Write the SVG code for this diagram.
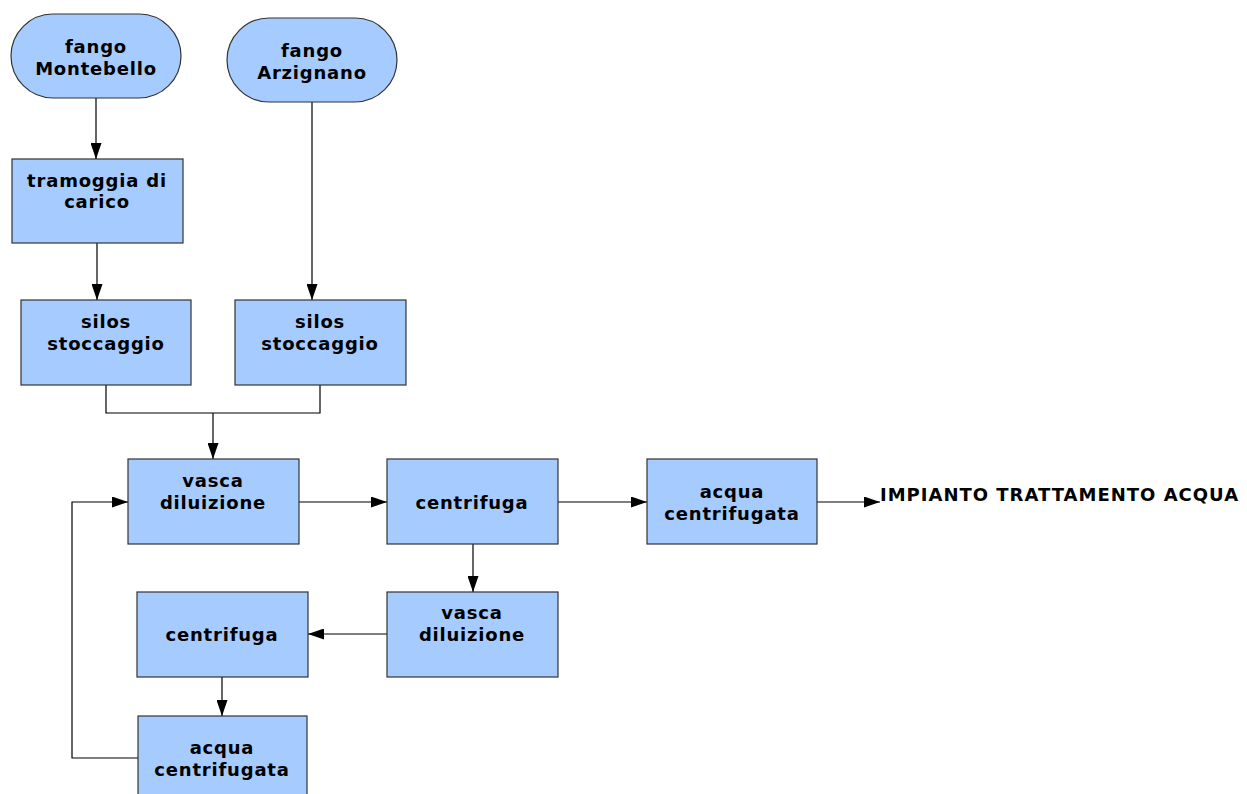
<svg xmlns="http://www.w3.org/2000/svg" width="1247" height="794" viewBox="0 0 1247 794">
  <style>
    .box { fill: #a6cbff; stroke: #333333; stroke-width: 1.2; }
    .lbl { font-family: "DejaVu Sans", Verdana, sans-serif; font-weight: bold; font-size: 18px; letter-spacing: 0.8px; fill: #000000; text-anchor: middle; }
    .out { font-family: "DejaVu Sans", Verdana, sans-serif; font-weight: bold; font-size: 18px; letter-spacing: 1px; fill: #000000; }
    .wire { fill: none; stroke: #000000; stroke-width: 1.2; }
  </style>
  <defs>
    <marker id="arrow" viewBox="0 0 16 11" refX="16" refY="5.5" markerWidth="16" markerHeight="11" markerUnits="userSpaceOnUse" orient="auto">
      <path d="M0,0 L16,5.5 L0,11 Z" fill="#000000"/>
    </marker>
  </defs>
  <rect width="1247" height="794" fill="#ffffff"/>

  <g id="connectors">
    <path class="wire" d="M96,98 V159" marker-end="url(#arrow)"/>
    <path class="wire" d="M312,102 V300" marker-end="url(#arrow)"/>
    <path class="wire" d="M97,243 V300" marker-end="url(#arrow)"/>
    <path class="wire" d="M106,385 V413 H320 V385"/>
    <path class="wire" d="M213,413 V459" marker-end="url(#arrow)"/>
    <path class="wire" d="M299,502 H387" marker-end="url(#arrow)"/>
    <path class="wire" d="M558,502 H647" marker-end="url(#arrow)"/>
    <path class="wire" d="M817,502 H880" marker-end="url(#arrow)"/>
    <path class="wire" d="M473,544 V592" marker-end="url(#arrow)"/>
    <path class="wire" d="M387,634 H308" marker-end="url(#arrow)"/>
    <path class="wire" d="M222,677 V716" marker-end="url(#arrow)"/>
    <path class="wire" d="M138,758 H72 V502 H128" marker-end="url(#arrow)"/>
  </g>

  <g id="fango-montebello">
    <rect class="box" x="11" y="14" width="170" height="84" rx="42" ry="42"/>
    <text class="lbl" x="96" y="53">fango</text>
    <text class="lbl" x="96" y="75">Montebello</text>
  </g>
  <g id="fango-arzignano">
    <rect class="box" x="227" y="18" width="170" height="84" rx="42" ry="42"/>
    <text class="lbl" x="312" y="57">fango</text>
    <text class="lbl" x="312" y="79">Arzignano</text>
  </g>
  <g id="tramoggia">
    <rect class="box" x="12" y="159" width="171" height="84"/>
    <text class="lbl" x="97" y="187">tramoggia di</text>
    <text class="lbl" x="97" y="208">carico</text>
  </g>
  <g id="silos-1">
    <rect class="box" x="21" y="300" width="170" height="85"/>
    <text class="lbl" x="106" y="328">silos</text>
    <text class="lbl" x="106" y="350">stoccaggio</text>
  </g>
  <g id="silos-2">
    <rect class="box" x="235" y="300" width="171" height="85"/>
    <text class="lbl" x="320" y="328">silos</text>
    <text class="lbl" x="320" y="350">stoccaggio</text>
  </g>
  <g id="vasca-1">
    <rect class="box" x="128" y="459" width="171" height="85"/>
    <text class="lbl" x="213" y="487">vasca</text>
    <text class="lbl" x="213" y="509">diluizione</text>
  </g>
  <g id="centrifuga-1">
    <rect class="box" x="387" y="459" width="171" height="85"/>
    <text class="lbl" x="472" y="509">centrifuga</text>
  </g>
  <g id="acqua-1">
    <rect class="box" x="647" y="459" width="170" height="85"/>
    <text class="lbl" x="732" y="498">acqua</text>
    <text class="lbl" x="732" y="520">centrifugata</text>
  </g>
  <g id="impianto">
    <text class="out" x="880" y="501">IMPIANTO TRATTAMENTO ACQUA</text>
  </g>
  <g id="vasca-2">
    <rect class="box" x="387" y="592" width="171" height="85"/>
    <text class="lbl" x="472" y="619">vasca</text>
    <text class="lbl" x="472" y="641">diluizione</text>
  </g>
  <g id="centrifuga-2">
    <rect class="box" x="137" y="592" width="171" height="85"/>
    <text class="lbl" x="222" y="641">centrifuga</text>
  </g>
  <g id="acqua-2">
    <rect class="box" x="138" y="716" width="169" height="85"/>
    <text class="lbl" x="222" y="754">acqua</text>
    <text class="lbl" x="222" y="776">centrifugata</text>
  </g>
</svg>
